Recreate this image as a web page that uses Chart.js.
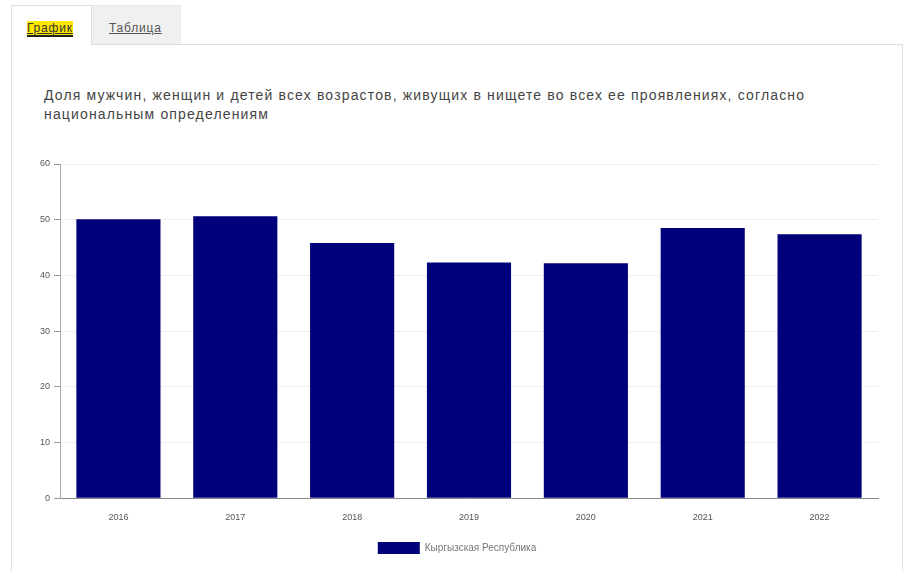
<!DOCTYPE html>
<html lang="ru">
<head>
    <meta charset="UTF-8">
    <title>График</title>
    <script src="https://cdn.jsdelivr.net/npm/chart.js@4.4.0/dist/chart.umd.min.js"></script>
    <style>
        body { margin: 0; background: #fff; font-family: "Liberation Sans", Arial, sans-serif; }
        .tab { position: absolute; top: 5px; height: 39px; box-sizing: border-box; font-size: 12px; letter-spacing: 0.8px; }
        .tab1 { left: 11px; width: 81px; border: 1px solid #ddd; border-bottom: none; background: #fff; z-index: 2; height: 40px; }
        .tab2 { left: 92px; width: 89px; background: #f0f0f0; border-top: 1px solid #e6e6e6; }
        .tab1 span { position: absolute; left: 15px; top: 15px; background: #ffe800; color: #333; text-decoration: underline; border-bottom: 2px solid #222; line-height: 14px; }
        .tab2 span { position: absolute; left: 17px; top: 15px; color: #555; text-decoration: underline; }
        #panel { position: absolute; left: 11px; top: 44px; width: 892px; height: 540px; border: 1px solid #ddd; box-sizing: border-box; }
        #title { position: absolute; left: 44px; top: 86px; width: 800px; font-size: 14px; letter-spacing: 1.15px; line-height: 19px; color: #444; }
        #wrap { position: absolute; left: 12px; top: 152px; width: 890px; height: 419px; }
    </style>
</head>
<body>
    <div class="tab tab1"><span>График</span></div>
    <div class="tab tab2"><span>Таблица</span></div>
    <div id="panel"></div>
    <div id="title">Доля мужчин, женщин и детей всех возрастов, живущих в нищете во всех ее проявлениях, согласно национальным определениям</div>
    <div id="wrap"><canvas id="myChart"></canvas></div>
    <script>
        // data
        let years = ['2016', '2017', '2018', '2019', '2020', '2021', '2022'];
        let kyrgyz = [50.1, 50.6, 45.8, 42.3, 42.2, 48.5, 47.4];
        let seriesName = 'Кыргызская Республика';

        var ctx = document.getElementById('myChart').getContext('2d');
        var myChart = new Chart(ctx, {
            type: 'bar',
            data: {
                labels: years,
                datasets: [{
                    label: seriesName,
                    data: kyrgyz,
                    backgroundColor: '#00007a',
                    borderWidth: 0,
                    categoryPercentage: 1,
                    barPercentage: 0.72
                }]
            },
            options: {
                responsive: true,
                maintainAspectRatio: false,
                animation: false,
                layout: { padding: { left: 24, right: 24, top: 12, bottom: 7 } },
                plugins: {
                    tooltip: { enabled: false },
                    legend: {
                        position: 'bottom',
                        labels: {
                            boxWidth: 42,
                            boxHeight: 12,
                            padding: 13,
                            color: '#777',
                            font: { size: 10, family: 'Liberation Sans' }
                        }
                    }
                },
                scales: {
                    x: {
                        grid: { display: false },
                        border: { color: '#888' },
                        ticks: { color: '#555', font: { size: 9, family: 'Liberation Sans' }, padding: 6 }
                    },
                    y: {
                        min: 0,
                        max: 60,
                        ticks: { stepSize: 10, color: '#555', font: { size: 9, family: 'Liberation Sans' }, padding: 4 },
                        grid: { color: '#eeeeee', tickColor: '#999', tickLength: 6 },
                        border: { color: '#aaa' }
                    }
                }
            }
        });
    </script>
</body>
</html>
